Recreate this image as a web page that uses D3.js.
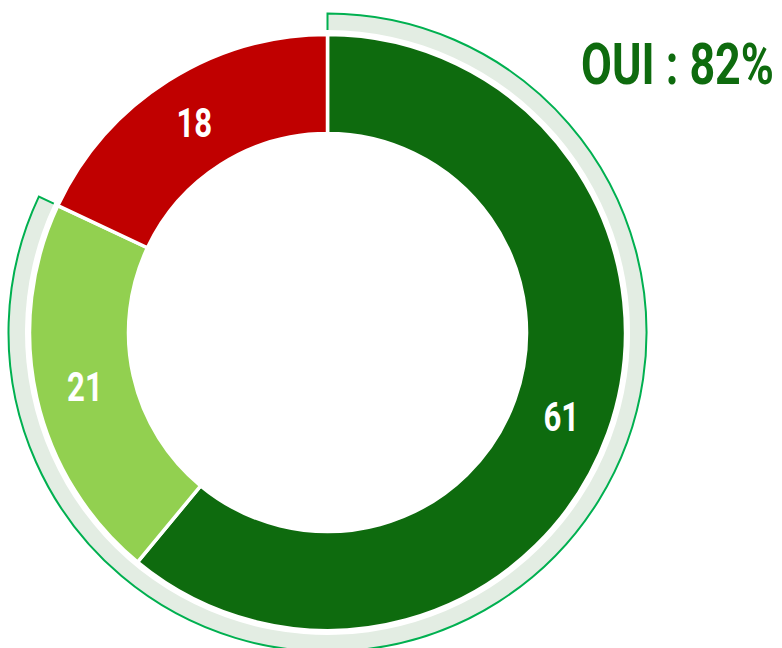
<!DOCTYPE html>
<html>
<head>
<meta charset="utf-8">
<script src="https://cdn.jsdelivr.net/npm/d3@7"></script>
<style>
  html, body { margin: 0; padding: 0; background: #fff; }
  svg { display: block; }
  text { font-family: "Roboto", "DejaVu Sans Condensed", sans-serif; font-weight: bold; }
</style>
</head>
<body>
<svg id="chart" width="782" height="648"></svg>
<script>
// Survey answers, drawn clockwise from the top
const categories = ["Oui, tout à fait", "Oui, plutôt", "Non"];
const values = [61, 21, 18];
const colors = ["#0e6b0e", "#92d050", "#c00000"];
// Share of "oui" answers, highlighted by the outer band
const yesIndexes = [0, 1];
const headline = "OUI : ";

const W = 782, H = 648;
const cx = 327.5, cy = 332.5;
const rInner = 199, rOuter = 298;
const bandInner = 302.5, bandOuter = 319;
const narrow = 0.76; // horizontal squeeze for a condensed look

const svg = d3.select("#chart");
const g = svg.append("g").attr("transform", `translate(${cx},${cy})`);

const total = d3.sum(values);
const yesTotal = d3.sum(yesIndexes, i => values[i]);
const pct = Math.round(yesTotal / total * 100);

const angle = d3.scaleLinear().domain([0, total]).range([0, 2 * Math.PI]);

// Outer band covering the "oui" slices
const bandEnd = angle(yesTotal);
g.append("path")
  .attr("d", d3.arc()({ innerRadius: bandInner, outerRadius: bandOuter, startAngle: 0, endAngle: bandEnd }))
  .attr("fill", "#e3ede3");

// Outline on the band's outer edge and both ends (inner edge left open)
const pt = (r, a) => [r * Math.sin(a), -r * Math.cos(a)];
const p = d3.path();
p.moveTo(...pt(bandInner, 0));
p.lineTo(...pt(bandOuter, 0));
p.arc(0, 0, bandOuter, -Math.PI / 2, bandEnd - Math.PI / 2, false);
p.lineTo(...pt(bandInner, bandEnd));
g.append("path")
  .attr("d", p.toString())
  .attr("fill", "none")
  .attr("stroke", "#00b050")
  .attr("stroke-width", 2);

// Donut slices
const pie = d3.pie().sort(null).value(d => d)(values);
const arc = d3.arc().innerRadius(rInner).outerRadius(rOuter);

g.selectAll("path.slice")
  .data(pie)
  .join("path")
  .attr("class", "slice")
  .attr("d", arc)
  .attr("fill", (d, i) => colors[i])
  .attr("stroke", "#fff")
  .attr("stroke-width", 3.5)
  .attr("stroke-linejoin", "miter");

// Value labels at slice centroids
g.selectAll("text.val")
  .data(pie)
  .join("text")
  .attr("class", "val")
  .attr("transform", d => `translate(${arc.centroid(d)}) scale(${narrow},1)`)
  .attr("text-anchor", "middle")
  .attr("dy", "0.36em")
  .attr("fill", "#fff")
  .attr("font-size", 41)
  .text(d => d.value);

// Headline, squeezed horizontally to a fixed width
const head = svg.append("text")
  .attr("fill", colors[0])
  .attr("font-size", 58)
  .text(headline + pct + "%");
const natural = head.node().getComputedTextLength();
head.attr("transform", `translate(581,84) scale(${193 / natural},1)`);
</script>
</body>
</html>
